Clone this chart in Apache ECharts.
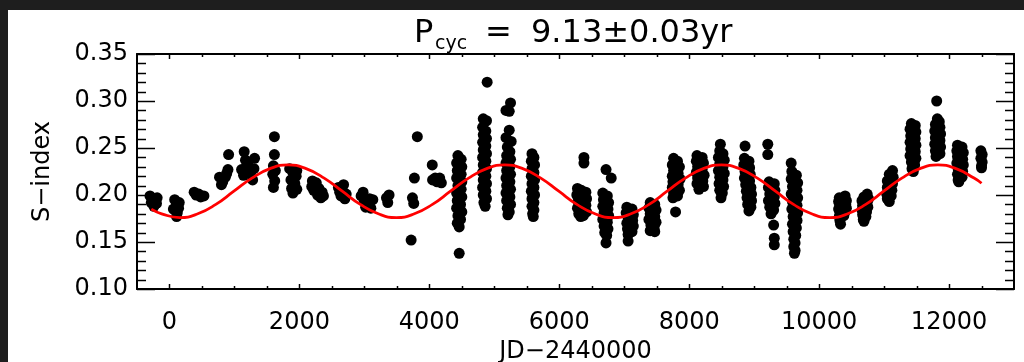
<!DOCTYPE html>
<html>
<head>
<meta charset="utf-8">
<script src="https://cdn.jsdelivr.net/npm/echarts@6/dist/echarts.min.js"></script>
<style>
html,body{margin:0;padding:0;background:#ffffff;}
#chart{width:1024px;height:362px;background:#ffffff;}
</style>
</head>
<body>
<div id="chart"></div>
<script>
// ---- Data (JD-2440000, S-index) ----
const sA = [[-300,0.199],[-280,0.192],[-240,0.188],[-230,0.196],[-200,0.191],[-190,0.197]];
const sB = [[80,0.195],[110,0.190],[140,0.186],[60,0.185],[120,0.181],[110,0.177],[150,0.192]];
const sC = [[380,0.203],[450,0.201],[530,0.199],[480,0.198],[410,0.200]];
const sD = [[910,0.243],[900,0.227],[770,0.219],[800,0.211],[860,0.219],[820,0.214],[880,0.223]];
const sE = [[1150,0.246],[1170,0.237],[1310,0.239],[1110,0.227],[1220,0.230],[1280,0.216],[1140,0.221],[1200,0.233],[1250,0.224],[1300,0.228]];
const sF = [[1615,0.262],[1615,0.243],[1600,0.231],[1590,0.222],[1620,0.215],[1600,0.208],[1630,0.226]];
const sG = [[1850,0.228],[1900,0.224],[1950,0.220],[1870,0.216],[1930,0.212],[1880,0.207],[1960,0.206],[1900,0.202],[1920,0.218],[1960,0.226]];
const sH = [[2200,0.215],[2250,0.211],[2300,0.207],[2350,0.203],[2220,0.205],[2280,0.200],[2330,0.197],[2260,0.213],[2370,0.199],[2190,0.209]];
const sI = [[2600,0.208],[2660,0.205],[2720,0.201],[2640,0.199],[2700,0.196],[2680,0.211],[2620,0.203]];
const sJ = [[2950,0.199],[3000,0.193],[3060,0.190],[3100,0.186],[3130,0.195],[3020,0.187],[3080,0.196],[2980,0.203]];
const sK = [[3340,0.197],[3360,0.192],[3380,0.200]];
const sL = [[3815,0.262],[3770,0.218],[3740,0.197],[3760,0.191],[3720,0.152]];
const sM = [[4045,0.232],[4050,0.216],[4120,0.214],[4185,0.213],[4160,0.218],[4090,0.218]];
const sN = [[4440,0.242],[4490,0.238],[4420,0.234],[4500,0.230],[4430,0.226],[4490,0.222],[4420,0.218],[4500,0.214],[4440,0.210],[4490,0.206],[4420,0.202],[4500,0.198],[4430,0.194],[4480,0.190],[4420,0.186],[4500,0.182],[4440,0.178],[4480,0.174],[4430,0.170],[4460,0.166],[4460,0.138],[4470,0.220],[4460,0.200],[4470,0.185]];
const sO = [[4890,0.320],[4830,0.281],[4880,0.279],[4820,0.272],[4870,0.268],[4830,0.264],[4880,0.260],[4820,0.256],[4870,0.252],[4830,0.248],[4880,0.244],[4820,0.240],[4870,0.236],[4830,0.232],[4880,0.228],[4820,0.224],[4870,0.220],[4830,0.216],[4880,0.212],[4820,0.208],[4870,0.204],[4830,0.200],[4880,0.196],[4840,0.192],[4860,0.188],[4850,0.250],[4850,0.230],[4850,0.210]];
const sP = [[5250,0.298],[5180,0.290],[5230,0.289],[5230,0.269],[5180,0.261],[5260,0.257],[5200,0.251],[5240,0.246],[5190,0.242],[5250,0.238],[5180,0.234],[5240,0.230],[5190,0.226],[5250,0.222],[5180,0.218],[5240,0.214],[5190,0.210],[5250,0.206],[5180,0.202],[5240,0.198],[5190,0.194],[5250,0.190],[5200,0.186],[5230,0.182],[5210,0.179],[5220,0.236],[5220,0.216]];
const sQ = [[5580,0.244],[5610,0.240],[5570,0.236],[5620,0.232],[5580,0.228],[5610,0.224],[5570,0.220],[5620,0.216],[5580,0.212],[5610,0.208],[5570,0.204],[5620,0.200],[5580,0.196],[5610,0.192],[5580,0.188],[5610,0.184],[5590,0.180],[5600,0.177]];
const sR = [[6380,0.240],[6380,0.234],[6280,0.207],[6340,0.205],[6410,0.203],[6270,0.200],[6330,0.198],[6420,0.196],[6290,0.193],[6360,0.191],[6410,0.189],[6280,0.186],[6340,0.184],[6420,0.182],[6300,0.180],[6370,0.178],[6330,0.177]];
const sS = [[6720,0.227],[6800,0.218],[6670,0.202],[6740,0.199],[6680,0.195],[6760,0.192],[6670,0.188],[6750,0.185],[6690,0.181],[6760,0.178],[6670,0.174],[6740,0.171],[6690,0.167],[6750,0.164],[6700,0.160],[6730,0.157],[6720,0.149],[6720,0.185]];
const sT = [[7040,0.187],[7120,0.185],[7030,0.181],[7140,0.179],[7060,0.176],[7130,0.173],[7040,0.170],[7140,0.167],[7050,0.164],[7120,0.161],[7060,0.158],[7060,0.151],[7100,0.180],[7090,0.168]];
const sU = [[7400,0.192],[7470,0.190],[7380,0.186],[7490,0.184],[7400,0.180],[7470,0.177],[7380,0.174],[7490,0.171],[7410,0.168],[7460,0.165],[7400,0.162],[7470,0.161],[7440,0.182],[7440,0.170]];
const sV = [[7760,0.239],[7820,0.236],[7740,0.232],[7850,0.230],[7760,0.226],[7830,0.223],[7740,0.220],[7860,0.217],[7750,0.214],[7830,0.211],[7740,0.208],[7850,0.205],[7760,0.202],[7820,0.199],[7750,0.197],[7790,0.182],[7800,0.228],[7800,0.210]];
const sW = [[8120,0.242],[8200,0.240],[8110,0.236],[8220,0.234],[8130,0.230],[8200,0.227],[8110,0.224],[8230,0.221],[8130,0.218],[8210,0.215],[8120,0.212],[8220,0.209],[8150,0.206],[8170,0.232],[8170,0.216]];
const sX = [[8480,0.254],[8470,0.247],[8520,0.244],[8450,0.240],[8540,0.237],[8470,0.233],[8520,0.230],[8450,0.226],[8540,0.223],[8470,0.219],[8520,0.216],[8460,0.212],[8530,0.209],[8470,0.205],[8510,0.202],[8490,0.197],[8490,0.235],[8490,0.221]];
const sY = [[8860,0.252],[8850,0.239],[8920,0.236],[8840,0.232],[8930,0.229],[8860,0.225],[8940,0.222],[8850,0.218],[8930,0.215],[8870,0.211],[8950,0.208],[8880,0.204],[8960,0.201],[8890,0.197],[8960,0.194],[8900,0.190],[8950,0.187],[8920,0.183],[8890,0.228],[8900,0.214]];
const sZ = [[9210,0.254],[9210,0.243],[9230,0.214],[9310,0.212],[9220,0.208],[9320,0.205],[9240,0.201],[9310,0.198],[9220,0.194],[9320,0.191],[9240,0.187],[9300,0.184],[9260,0.180],[9300,0.168],[9310,0.154],[9310,0.147],[9270,0.200]];
const sAA = [[9570,0.234],[9580,0.225],[9650,0.221],[9570,0.217],[9670,0.213],[9590,0.209],[9660,0.205],[9570,0.201],[9670,0.197],[9590,0.193],[9660,0.189],[9580,0.185],[9670,0.181],[9600,0.177],[9660,0.173],[9590,0.169],[9650,0.165],[9600,0.161],[9640,0.157],[9610,0.153],[9630,0.149],[9610,0.145],[9630,0.141],[9620,0.138],[9620,0.211],[9620,0.190],[9620,0.170]];
const sAB = [[10310,0.197],[10400,0.199],[10300,0.193],[10420,0.194],[10320,0.189],[10410,0.190],[10300,0.185],[10420,0.186],[10320,0.181],[10400,0.182],[10310,0.177],[10380,0.178],[10320,0.173],[10330,0.169],[10360,0.188]];
const sAC = [[10740,0.201],[10690,0.198],[10760,0.196],[10660,0.194],[10740,0.192],[10670,0.189],[10750,0.187],[10660,0.184],[10730,0.182],[10670,0.179],[10720,0.177],[10680,0.174],[10690,0.172],[10710,0.190]];
const sAD = [[11130,0.226],[11080,0.222],[11140,0.219],[11050,0.215],[11130,0.212],[11050,0.208],[11120,0.205],[11040,0.201],[11110,0.199],[11050,0.196],[11080,0.193],[11090,0.210]];
const sAE = [[11420,0.276],[11480,0.274],[11400,0.270],[11490,0.267],[11410,0.263],[11480,0.260],[11400,0.256],[11490,0.253],[11410,0.249],[11480,0.246],[11400,0.242],[11490,0.239],[11420,0.235],[11470,0.232],[11430,0.228],[11450,0.225],[11450,0.262],[11450,0.245]];
const sAF = [[11810,0.300],[11820,0.281],[11850,0.278],[11790,0.275],[11860,0.272],[11780,0.268],[11870,0.265],[11790,0.261],[11860,0.258],[11780,0.254],[11870,0.251],[11790,0.247],[11860,0.244],[11800,0.241],[11830,0.262],[11830,0.250]];
const sAG = [[12130,0.253],[12200,0.251],[12120,0.247],[12220,0.245],[12130,0.241],[12210,0.238],[12120,0.234],[12220,0.232],[12140,0.228],[12210,0.225],[12130,0.222],[12200,0.219],[12140,0.216],[12150,0.214],[12170,0.236]];
const sAH = [[12490,0.247],[12510,0.243],[12490,0.239],[12510,0.235],[12500,0.231],[12500,0.229]];

// Fitted cycle curve (P = 9.13 yr)
const fitJD = [-280,-120,158,436,714,991,1269,1547,1825,2103,2381,2659,2937,3215,3492,3770,4048,4326,4604,4882,5160,5438,5716,5993,6271,6549,6827,7105,7383,7661,7939,8217,8495,8772,9050,9328,9606,9884,10162,10440,10718,10995,11273,11551,11829,12107,12385,12500];
const fitS  = [0.185,0.180,0.176,0.180,0.190,0.204,0.218,0.228,0.232,0.228,0.218,0.204,0.190,0.180,0.176,0.180,0.190,0.204,0.218,0.228,0.232,0.228,0.218,0.204,0.190,0.180,0.176,0.180,0.190,0.204,0.218,0.228,0.232,0.228,0.218,0.204,0.190,0.180,0.176,0.180,0.190,0.204,0.218,0.228,0.232,0.228,0.218,0.2125];

// Tick values
const xLabelTicks = [0,2000,4000,6000,8000,10000,12000];
const xAllTicks = [0,500,1000,1500,2000,2500,3000,3500,4000,4500,5000,5500,6000,6500,7000,7500,8000,8500,9000,9500,10000,10500,11000,11500,12000,12500];
const yAllTicks = [0.10,0.11,0.12,0.13,0.14,0.15,0.16,0.17,0.18,0.19,0.20,0.21,0.22,0.23,0.24,0.25,0.26,0.27,0.28,0.29,0.30,0.31,0.32,0.33,0.34,0.35];
const X_MIN = -500, X_MAX = 13000, Y_MIN = 0.10, Y_MAX = 0.35;

const seasons = [sA,sB,sC,sD,sE,sF,sG,sH,sI,sJ,sK,sL,sM,sN,sO,sP,sQ,sR,sS,sT,sU,sV,sW,sX,sY,sZ,sAA,sAB,sAC,sAD,sAE,sAF,sAG,sAH];
const points = [];
seasons.forEach(s => s.forEach(p => points.push(p)));
const fitLine = fitJD.map((x, i) => [x, fitS[i]]);

const FONT = 'DejaVu Sans';
const lineCol = '#000';
const W = 1024, H = 362;
const GRID = { left: 137, right: 10, top: 54, bottom: 73 };
const axLine = { show: true, onZero: false, lineStyle: { color: lineCol, width: 2 } };

// frame ticks: same linear mapping as the grid's value axes
const gx0 = GRID.left, gx1 = W - GRID.right, gy0 = GRID.top, gy1 = H - GRID.bottom;
const mapX = v => gx0 + (v - X_MIN) / (X_MAX - X_MIN) * (gx1 - gx0);
const mapY = v => gy1 - (v - Y_MIN) / (Y_MAX - Y_MIN) * (gy1 - gy0);
const tickStyle = { stroke: '#000', lineWidth: 1.5 };
const tickEls = [];
yAllTicks.forEach((v, i) => {
  const y = Math.round(mapY(v)) + 0.5;
  const len = (i % 5 === 0) ? 18 : 9;
  tickEls.push({ type: 'line', silent: true, z: 100, shape: { x1: gx0, y1: y, x2: gx0 + len, y2: y }, style: tickStyle });
  tickEls.push({ type: 'line', silent: true, z: 100, shape: { x1: gx1, y1: y, x2: gx1 - len, y2: y }, style: tickStyle });
});
xAllTicks.forEach(v => {
  const x = Math.round(mapX(v)) + 0.5;
  const len = (v % 2000 === 0) ? 5 : 3;
  tickEls.push({ type: 'line', silent: true, z: 100, shape: { x1: x, y1: gy1, x2: x, y2: gy1 - len }, style: tickStyle });
  tickEls.push({ type: 'line', silent: true, z: 100, shape: { x1: x, y1: gy0, x2: x, y2: gy0 + len }, style: tickStyle });
});

const chart = echarts.init(document.getElementById('chart'), null, { renderer: 'canvas' });
chart.setOption({
  animation: false,
  backgroundColor: '#ffffff',
  textStyle: { fontFamily: FONT },
  grid: { left: GRID.left, right: GRID.right, top: GRID.top, bottom: GRID.bottom, outerBoundsMode: 'none' },
  graphic: [
    { type: 'rect', left: 0, top: 0, shape: { width: 1024, height: 10 }, style: { fill: '#1e1e1e' }, z: 100 },
    { type: 'rect', left: 0, top: 0, shape: { width: 8, height: 362 }, style: { fill: '#1e1e1e' }, z: 100 },
    { type: 'text', x: 414, y: 34, style: { text: 'P', font: '32px "DejaVu Sans"', fill: '#000', align: 'left', verticalAlign: 'middle' } },
    { type: 'text', x: 435, y: 44, style: { text: 'cyc', font: '19px "DejaVu Sans"', fill: '#000', align: 'left', verticalAlign: 'middle' } },
    { type: 'text', x: 485, y: 34, style: { text: '=', font: '32px "DejaVu Sans"', fill: '#000', align: 'left', verticalAlign: 'middle' } },
    { type: 'text', x: 531, y: 34, style: { text: '9.13±0.03yr', font: '32px "DejaVu Sans"', fill: '#000', align: 'left', verticalAlign: 'middle' } }
  ].concat(tickEls),
  xAxis: [
    { type: 'value', position: 'bottom', min: X_MIN, max: X_MAX, interval: 500,
      axisLine: axLine, axisTick: { show: false }, splitLine: { show: false },
      axisLabel: { show: true, customValues: xLabelTicks, fontSize: 24, fontFamily: FONT, color: '#000', margin: 22, formatter: v => String(v) },
      name: 'JD−2440000', nameLocation: 'middle', nameGap: 51, nameTextStyle: { fontSize: 24, fontFamily: FONT, color: '#000' } },
    { type: 'value', position: 'top', min: X_MIN, max: X_MAX, interval: 500,
      axisLine: axLine, axisTick: { show: false }, splitLine: { show: false }, axisLabel: { show: false } }
  ],
  yAxis: [
    { type: 'value', position: 'left', min: Y_MIN, max: Y_MAX, interval: 0.05,
      axisLine: axLine, axisTick: { show: false }, splitLine: { show: false },
      axisLabel: { show: true, fontSize: 24, fontFamily: FONT, color: '#000', margin: 9, formatter: v => v.toFixed(2) },
      name: 'S−index', nameLocation: 'middle', nameGap: 82, nameTextStyle: { fontSize: 24, fontFamily: FONT, color: '#000' } },
    { type: 'value', position: 'right', min: Y_MIN, max: Y_MAX, interval: 0.05,
      axisLine: axLine, axisTick: { show: false }, splitLine: { show: false }, axisLabel: { show: false } }
  ],
  series: [
    { type: 'scatter', xAxisIndex: 0, yAxisIndex: 0, data: points, symbol: 'circle', symbolSize: 11,
      itemStyle: { color: '#000', opacity: 1 }, z: 2, silent: true },
    { type: 'line', xAxisIndex: 0, yAxisIndex: 0, data: fitLine, smooth: 0.5, showSymbol: false, symbol: 'none',
      lineStyle: { color: '#ff0000', width: 2.8 }, z: 3, silent: true }
  ]
});
</script>
</body>
</html>
